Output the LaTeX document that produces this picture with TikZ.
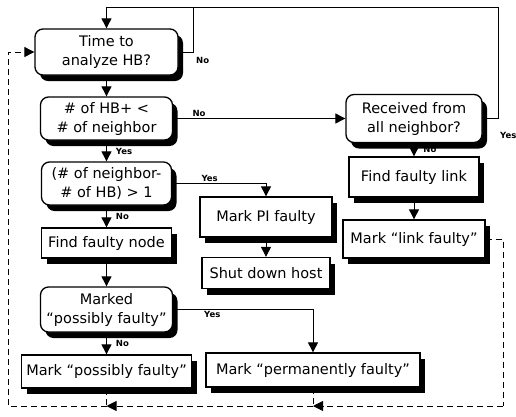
\documentclass[tikz,border=0pt]{standalone}
\usepackage{fontspec}
\setmainfont{DejaVu Sans}
\usetikzlibrary{arrows.meta, shadows, positioning}

\begin{document}
\begin{tikzpicture}[x=1pt, y=-1pt,
  box/.style={draw, line width=1.3pt, fill=white, align=center, inner sep=2pt,
    font=\fontsize{14.5}{19}\selectfont,
    drop shadow={shadow xshift=5pt, shadow yshift=-6pt, opacity=1, fill=black}},
  rbox/.style={box, rounded corners=8pt},
  lab/.style={font=\fontsize{8.5}{9}\selectfont\bfseries, inner sep=1pt},
  line/.style={line width=0.9pt},
  arr/.style={line width=0.9pt, -{Triangle[width=10pt, length=10pt]}},
  fb/.style={line width=0.9pt, dash pattern=on 6pt off 4pt}]
\useasboundingbox (0,0) rectangle (516,416);

% left column
\node[rbox, minimum width=143pt, minimum height=46pt] (time) at (106.5,52) {Time to\\analyze HB?};
\node[rbox, minimum width=132pt, minimum height=43pt] (hb) at (106.5,118.5) {\# of HB+ <\\\# of neighbor};
\node[rbox, minimum width=130pt, minimum height=43pt] (diff) at (106.5,183.5) {(\# of neighbor-\\\# of HB) > 1};
\node[box, minimum width=130pt, minimum height=30pt] (findnode) at (106.5,243) {Find faulty node};
\node[rbox, minimum width=132pt, minimum height=45pt] (marked) at (106.5,309.5) {Marked\\“possibly faulty”};
\node[box, minimum width=170pt, minimum height=33pt] (markposs) at (106.5,371.5) {Mark “possibly faulty”};
\node[box, minimum width=214pt, minimum height=34pt] (markperm) at (313,370) {Mark “permanently faulty”};

% middle column
\node[box, minimum width=132pt, minimum height=40pt] (markpi) at (266,217) {Mark PI faulty};
\node[box, minimum width=128pt, minimum height=31pt] (shut) at (266,273) {Shut down host};

% right column
\node[rbox, minimum width=136pt, minimum height=48pt] (recv) at (414,118.5) {Received from\\all neighbor?};
\node[box, minimum width=130pt, minimum height=40pt] (findlink) at (414,177) {Find faulty link};
\node[box, minimum width=142pt, minimum height=38pt] (marklink) at (414,239) {Mark “link faulty”};

% loop back to the top
\coordinate (tnode) at (193,7);
\coordinate (topr) at (498,7);
\draw[line] (time.east) -| (tnode);
\node[lab, anchor=west] (tno) at (195,60) {No};
\draw[arr] (recv.east) -| (topr) -- (time.north |- topr) -- (time.north);
\node[lab, anchor=west] (ryes) at (499,135) {Yes};

% main flow
\draw[arr] (time) -- (hb);
\draw[arr] (hb.east) -- node[lab, above, pos=0.15] {No} (recv.west);
\draw[arr] (hb) -- node[lab, right, xshift=8pt] {Yes} (diff);
\draw[arr] (diff.east) -| node[lab, above, pos=0.2] {Yes} (markpi.north);
\draw[arr] (diff) -- node[lab, right, xshift=8pt] {No} (findnode);
\draw[arr] (findnode) -- (marked);
\draw[arr] (marked) -- node[lab, right, xshift=8pt] {No} (markposs);
\draw[arr] (marked.east) -| node[lab, below, pos=0.14] {Yes} (markperm.north);
\draw[arr] (markpi) -- (shut);
\draw[arr] (recv) -- node[lab, right, xshift=8pt] {No} (findlink);
\draw[arr] (findlink) -- (marklink);

% dashed feedback
\coordinate (br) at (503,406);
\coordinate (tl) at (8,52);
\draw[fb] (marklink.east) -| (br);
\draw[fb, arr, dash pattern=on 6pt off 4pt] (br) -- (markperm.south |- br);
\draw[fb] (markperm.south) -- (markperm.south |- br);
\draw[fb, arr, dash pattern=on 6pt off 4pt] (markperm.south |- br) -- (markposs.south |- br);
\draw[fb] (markposs.south) -- (markposs.south |- br);
\draw[fb, arr, dash pattern=on 6pt off 4pt] (markposs.south |- br) -| (tl) -- (time.west);
\end{tikzpicture}
\end{document}
